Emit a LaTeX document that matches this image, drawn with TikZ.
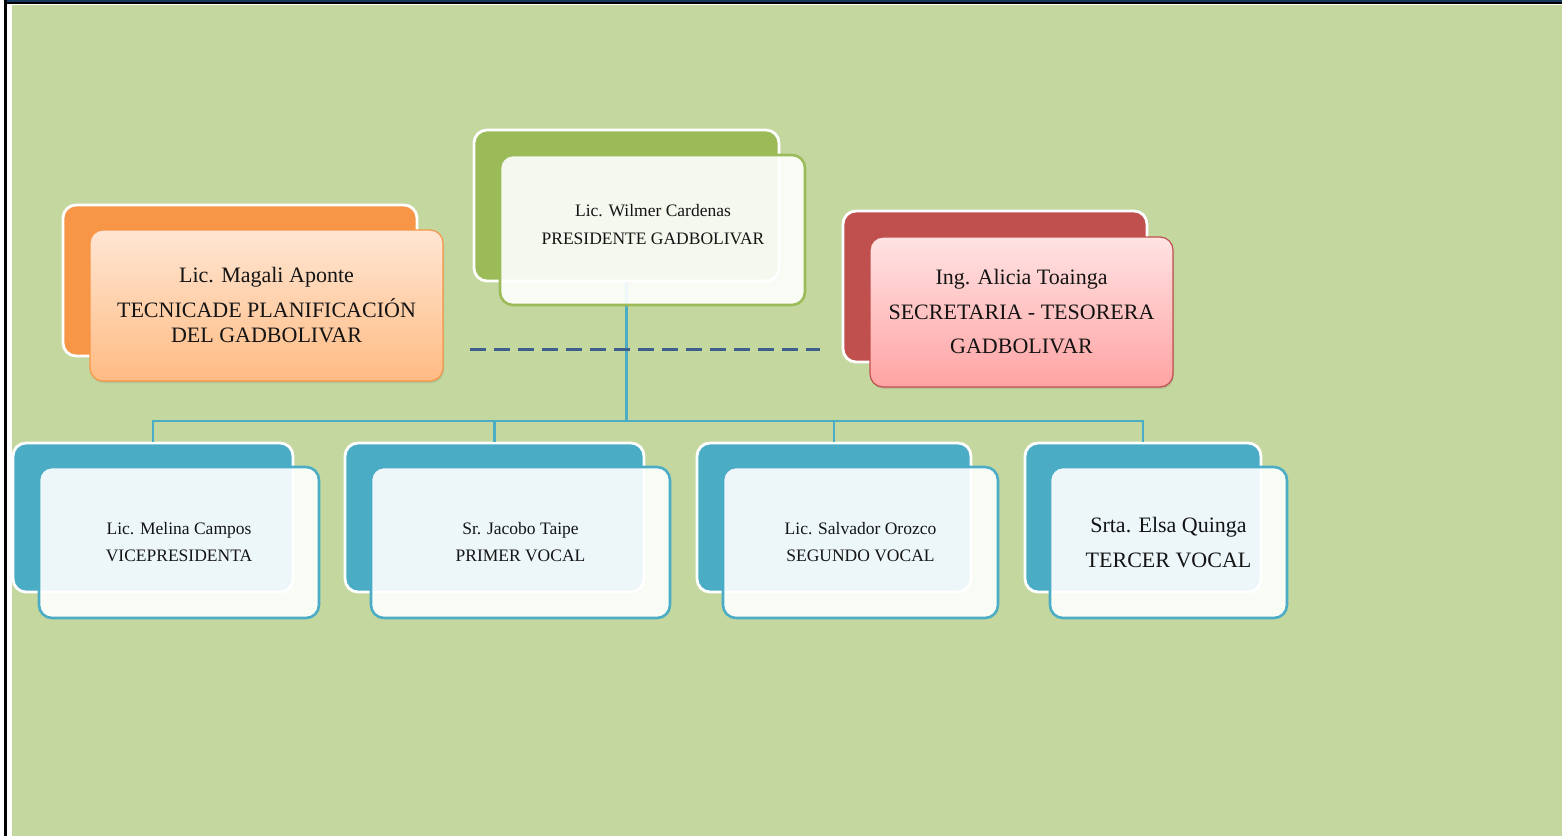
\documentclass[tikz,border=0pt]{standalone}
\usepackage{fontspec}
\setmainfont{Liberation Serif}
\usetikzlibrary{shadows}
\definecolor{bg}{HTML}{C4D79F}
\definecolor{cgreen}{HTML}{9BBB59}
\definecolor{corange}{HTML}{F79646}
\definecolor{cred}{HTML}{C0504D}
\definecolor{cblue}{HTML}{4BACC6}
\definecolor{cdash}{HTML}{3D5F8C}
\definecolor{cnavy}{HTML}{17375E}
\definecolor{otop}{HTML}{FFE6D3}
\definecolor{obot}{HTML}{FFBB83}
\definecolor{rtop}{HTML}{FFE3E3}
\definecolor{rbot}{HTML}{FFA3A3}
\definecolor{ctext}{HTML}{141414}
\tikzset{
  backbox/.style={draw=white, line width=2.8pt, fill=#1, rounded corners=13pt, inner sep=0pt},
  frontbox/.style={draw=#1, line width=2.6pt, fill=white, fill opacity=0.9, text opacity=1,
    rounded corners=13pt, inner sep=0pt, align=center, text=ctext},
  gradbox/.style n args={3}{draw=#1, line width=1.2pt, top color=#2, bottom color=#3,
    rounded corners=13pt, inner sep=0pt, align=center, text=ctext,
    drop shadow={shadow xshift=1pt, shadow yshift=-2pt, opacity=0.25}},
  smalltxt/.style={font=\fontsize{17.5pt}{27pt}\selectfont, align=center, inner sep=0pt, text=ctext},
  conn/.style={draw=cblue, line width=2.5pt},
  dashline/.style={draw=cdash, line width=3pt, dash pattern=on 16pt off 8pt}
}
\begin{document}
\begin{tikzpicture}[x=1pt,y=-1pt]
% page and frame
\fill[white] (0,0) rectangle (1562,836);
\useasboundingbox (0,0) rectangle (1562,836);
\fill[cnavy] (4,0) rectangle (1562,2);
\fill[black] (4,2) rectangle (1562,4);
\fill[black] (4,0) rectangle (7,836);
\fill[bg] (12,5) rectangle (1562,836);

% back boxes
\node[backbox=cgreen, minimum width=305, minimum height=151] (wb) at (626.5,205.5) {};
\node[backbox=corange, minimum width=354, minimum height=151] (mb) at (240,280.5) {};
\node[backbox=cred, minimum width=304, minimum height=151] (ab) at (995,286.5) {};
\node[backbox=cblue, minimum width=280, minimum height=149] (b1) at (153,517.5) {};
\node[backbox=cblue, minimum width=299, minimum height=149] (b2) at (494.5,517.5) {};
\node[backbox=cblue, minimum width=274, minimum height=149] (b3) at (834,517.5) {};
\node[backbox=cblue, minimum width=236, minimum height=149] (b4) at (1143,517.5) {};

% connectors
\coordinate (hub) at (626.5,421);
\draw[conn] (wb.south) -- (hub);
\draw[conn] (b1.north) |- (hub);
\draw[conn] (b2.north) |- (hub);
\draw[conn] (b3.north) |- (hub);
\draw[conn] (b4.north) |- (hub);

% front boxes
\node[frontbox=cgreen, minimum width=305, minimum height=150] (wf) at (652.5,230) {};
\node[smalltxt, font=\fontsize{17.5pt}{28pt}\selectfont] (wt) at (653,225) {Lic. Wilmer Cardenas\\PRESIDENTE GADBOLIVAR};

\node[gradbox={corange}{otop}{obot}, minimum width=353, minimum height=151,
  font=\fontsize{22pt}{25pt}\selectfont] (mf) at (266.5,305.5)
  {Lic. Magali Aponte\\[10pt]TECNICADE PLANIFICACIÓN\\DEL GADBOLIVAR};

\node[gradbox={cred}{rtop}{rbot}, minimum width=303, minimum height=150,
  font=\fontsize{22pt}{34.5pt}\selectfont] (af) at (1021.5,312)
  {Ing. Alicia Toainga\\SECRETARIA - TESORERA\\GADBOLIVAR};

\node[frontbox=cblue, minimum width=280, minimum height=151,
  font=\fontsize{17.5pt}{27pt}\selectfont] (f1) at (179,542.5)
  {Lic. Melina Campos\\VICEPRESIDENTA};
\node[frontbox=cblue, minimum width=299, minimum height=151,
  font=\fontsize{17.5pt}{27pt}\selectfont] (f2) at (520.5,542.5)
  {Sr. Jacobo Taipe\\PRIMER VOCAL};
\node[frontbox=cblue, minimum width=275, minimum height=151,
  font=\fontsize{17.5pt}{27pt}\selectfont] (f3) at (860.5,542.5)
  {Lic. Salvador Orozco\\SEGUNDO VOCAL};
\node[frontbox=cblue, minimum width=237, minimum height=151,
  font=\fontsize{22pt}{35pt}\selectfont] (f4) at (1168.5,542.5)
  {Srta. Elsa Quinga\\TERCER VOCAL};

% dashed line
\coordinate (dl) at (470,349);
\coordinate (dr) at (820,349);
\draw[dashline] (dl) -- (dr);
\end{tikzpicture}
\end{document}
